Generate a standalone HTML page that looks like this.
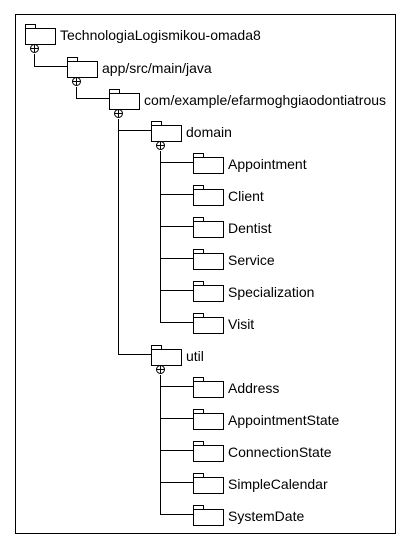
<!DOCTYPE html>
<html><head><meta charset="utf-8"><style>
html,body{margin:0;padding:0;background:#fff;}
svg{display:block;}
text{font-family:"Liberation Sans",Arial,sans-serif;font-size:14px;fill:#000;}
</style></head><body>
<svg width="411" height="551" viewBox="0 0 411 551" xmlns="http://www.w3.org/2000/svg">
<rect x="15.5" y="14.5" width="380" height="519" fill="#fff" stroke="#000" stroke-width="1"/>
<g fill="#fff" stroke="#000" stroke-width="1">
<polyline fill="none" points="34.5,54 34.5,66.5 67,66.5"/>
<polyline fill="none" points="76.5,87 76.5,98.5 109,98.5"/>
<polyline fill="none" points="118.5,119 118.5,354.5 151,354.5"/>
<line x1="118.5" y1="130.5" x2="151" y2="130.5"/>
<polyline fill="none" points="160.5,151 160.5,322.5 193,322.5"/>
<line x1="160.5" y1="162.5" x2="193" y2="162.5"/>
<line x1="160.5" y1="194.5" x2="193" y2="194.5"/>
<line x1="160.5" y1="226.5" x2="193" y2="226.5"/>
<line x1="160.5" y1="258.5" x2="193" y2="258.5"/>
<line x1="160.5" y1="290.5" x2="193" y2="290.5"/>
<polyline fill="none" points="160.5,375 160.5,514.5 193,514.5"/>
<line x1="160.5" y1="386.5" x2="193" y2="386.5"/>
<line x1="160.5" y1="418.5" x2="193" y2="418.5"/>
<line x1="160.5" y1="450.5" x2="193" y2="450.5"/>
<line x1="160.5" y1="482.5" x2="193" y2="482.5"/>
</g>
<g id="folders" fill="#fff" stroke="#000" stroke-width="1"></g>
<g id="labels"></g>
<script>
var items=[
[25,28,"TechnologiaLogismikou-omada8",1],
[67,61,"app/src/main/java",1],
[109,93,"com/example/efarmoghgiaodontiatrous",1],
[151,125,"domain",1],
[193,157,"Appointment"],[193,189,"Client"],[193,221,"Dentist"],[193,253,"Service"],[193,285,"Specialization"],[193,317,"Visit"],
[151,349,"util",1],
[193,381,"Address"],[193,413,"AppointmentState"],[193,445,"ConnectionState"],[193,477,"SimpleCalendar"],[193,509,"SystemDate"]
];
var NS="http://www.w3.org/2000/svg",f=document.getElementById("folders"),l=document.getElementById("labels");
function el(t,a,p){var e=document.createElementNS(NS,t);for(var k in a)e.setAttribute(k,a[k]);p.appendChild(e);return e;}
items.forEach(function(it){
var x=it[0]+0.5,y=it[1]+0.5;
el("rect",{x:x,y:y-4,width:10,height:4},f);
el("rect",{x:x,y:y,width:30,height:16},f);
if(it[3]){var cx=x+9,cy=y+20;
el("circle",{cx:cx,cy:cy,r:4},f);
el("line",{x1:cx-4,y1:cy,x2:cx+4,y2:cy},f);
el("line",{x1:cx,y1:cy-4,x2:cx,y2:cy+4},f);}
var t=el("text",{x:it[0]+35,y:it[1]+12},l);t.textContent=it[2];
});
</script>
</svg>
</body></html>
